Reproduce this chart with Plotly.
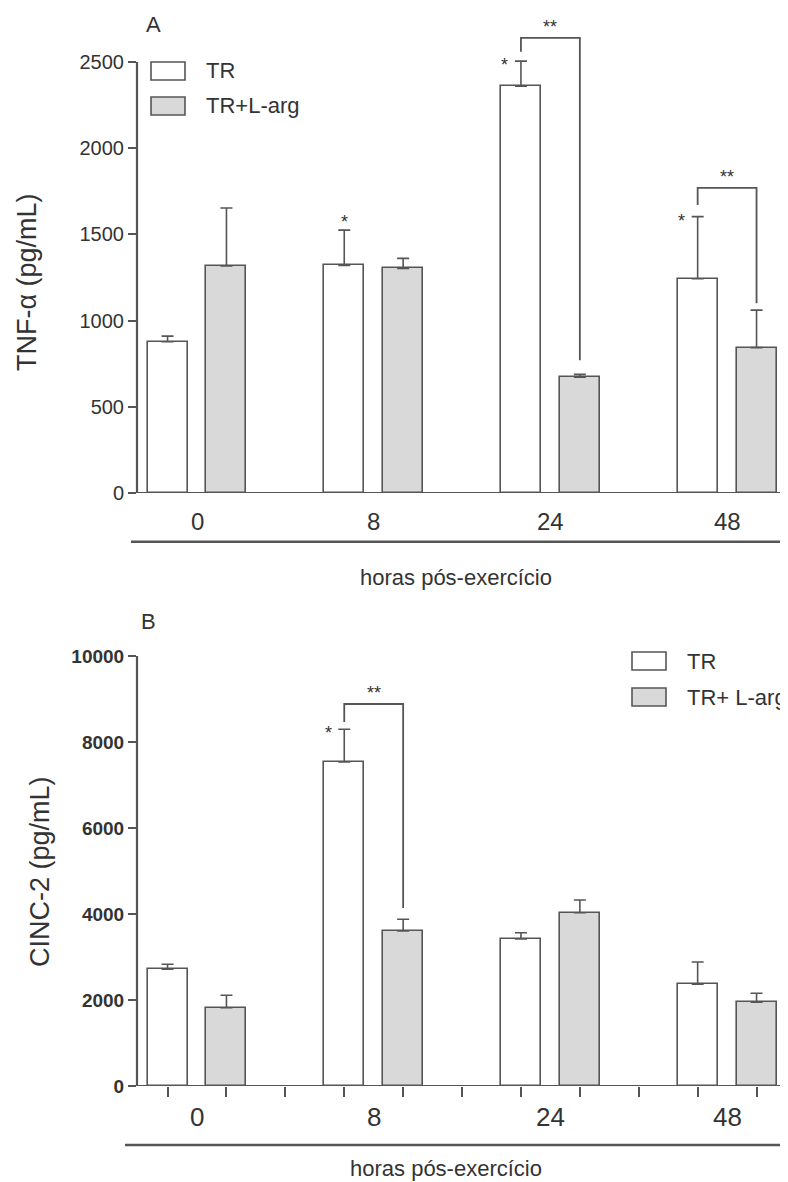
import plotly.graph_objects as go

# ---------------- data ----------------
hours = ["0", "8", "24", "48"]
series_names = ["TR", "TR+L-arg"]

tnf_tr = [877, 1320, 2360, 1243]
tnf_tr_sem = [33, 205, 145, 360]
tnf_larg = [1317, 1303, 671, 843]
tnf_larg_sem = [336, 58, 17, 218]

cinc_tr = [2714, 7535, 3419, 2365]
cinc_tr_sem = [116, 760, 146, 519]
cinc_larg = [1821, 3605, 4030, 1946]
cinc_larg_sem = [288, 272, 296, 210]

tnf_ticks = [0, 500, 1000, 1500, 2000, 2500]
cinc_ticks = [0, 2000, 4000, 6000, 8000, 10000]

# significance: (group index, left start, top, right end) in data units
tnf_brackets = [(2, 2560, 2640, 770), (3, 1670, 1770, 1100)]
tnf_stars = [1, 2, 3]          # groups with "*" on TR
cinc_brackets = [(1, 8465, 8884, 4140)]
cinc_stars = [1]

# ---------------- geometry helpers ----------------
# the page body adds an 8px margin; work in page pixels and convert
OX, OY = 8, 8
W, H = 780, 1174
def px(x):
    return (x - OX) / W
def py(y):
    return 1 - (y - OY) / H

FONT = "Liberation Sans, Arial, sans-serif"
LINE = "#555555"
TXT = "#333333"
GRAY = "#d9d9d9"

GROUP_PX = 176.7
C0 = 197
XMIN = (137 - C0) / GROUP_PX
XMAX = (788 - C0) / GROUP_PX
OFF = 1 / 6
BW = 40 / GROUP_PX

xs = list(range(len(hours)))

fig = go.Figure()

def add_bars(vals, sems, color, xa, ya, off):
    fig.add_trace(go.Bar(
        x=[x + off for x in xs], y=vals, width=BW,
        marker=dict(color=color, line=dict(color=LINE, width=1.6)),
        error_y=dict(type="data", array=sems, arrayminus=[0] * len(sems),
                     symmetric=False, color=LINE, thickness=1.6, width=6),
        xaxis=xa, yaxis=ya, showlegend=False))

add_bars(tnf_tr, tnf_tr_sem, "white", "x", "y", -OFF)
add_bars(tnf_larg, tnf_larg_sem, GRAY, "x", "y", OFF)
add_bars(cinc_tr, cinc_tr_sem, "white", "x2", "y2", -OFF)
add_bars(cinc_larg, cinc_larg_sem, GRAY, "x2", "y2", OFF)

top_zero_px, top_2500_px = 493, 62
top_range_max = 2500 * (top_zero_px - OY) / (top_zero_px - top_2500_px)
bot_zero_px, bot_top_px = 1086, 656

fig.update_layout(
    template="none",
    width=W, height=H, margin=dict(l=0, r=0, t=0, b=0, pad=0, autoexpand=False),
    plot_bgcolor="white", paper_bgcolor="white", bargap=0,
    xaxis=dict(domain=[px(137), 1], range=[XMIN, XMAX], showticklabels=False,
               ticks="", showgrid=False, zeroline=False, showline=False,
               automargin=False),
    yaxis=dict(domain=[py(top_zero_px), 1], range=[0, top_range_max],
               tickvals=tnf_ticks, ticktext=[str(v) for v in tnf_ticks],
               ticks="outside", ticklen=8, tickwidth=2,
               tickcolor=LINE, showgrid=False, zeroline=False, showline=False,
               automargin=False,
               tickfont=dict(family=FONT, size=20, color=TXT)),
    xaxis2=dict(domain=[px(137), 1], range=[XMIN, XMAX], showticklabels=False,
                tickvals=[i / 3 - 1 / 6 for i in range(11)], ticks="outside",
                ticklen=10, tickwidth=2, tickcolor=LINE, anchor="y2",
                showgrid=False, zeroline=False, showline=False, automargin=False),
    yaxis2=dict(domain=[py(bot_zero_px), py(bot_top_px)], range=[0, 10000],
                tickvals=cinc_ticks, ticktext=[str(v) for v in cinc_ticks],
                ticks="outside", ticklen=8, tickwidth=2,
                tickcolor=LINE, anchor="x2", showgrid=False, zeroline=False,
                showline=False, automargin=False,
                tickfont=dict(family=FONT, size=19, color=TXT, weight="bold")),
)

shapes = []
annos = []

def line(x0, y0, x1, y1, xref, yref, w=2.2):
    shapes.append(dict(type="line", x0=x0, y0=y0, x1=x1, y1=y1, xref=xref,
                       yref=yref, line=dict(color=LINE, width=w)))

def text(xp, yp, s, size, **kw):
    d = dict(x=px(xp), y=py(yp), xref="paper", yref="paper", text=s,
             showarrow=False, xanchor="center", yanchor="middle",
             font=dict(family=FONT, size=size, color=TXT))
    d.update(kw)
    annos.append(d)

# axis lines
line(px(137), 0, px(137), 2500, "paper", "y")
line(px(131), 0, 1, 0, "paper", "y")
line(px(137), 0, px(137), 10000, "paper", "y2")
line(px(129), 0, 1, 0, "paper", "y2")
# underlines
line(px(131), py(541.7), 1, py(541.7), "paper", "paper", 2.5)
line(px(125), py(1145), 1, py(1145), "paper", "paper", 2.5)

# category labels
for i, h in enumerate(hours):
    annos.append(dict(x=i, y=py(521), xref="x", yref="paper", text=h,
                      showarrow=False, xanchor="center", yanchor="middle",
                      font=dict(family=FONT, size=24, color=TXT)))
    annos.append(dict(x=i, y=py(1117), xref="x2", yref="paper", text=h,
                      showarrow=False, xanchor="center", yanchor="middle",
                      font=dict(family=FONT, size=26, color=TXT)))

# axis titles
text(27, 282, "TNF-α (pg/mL)", 27, textangle=-90)
text(40, 872, "CINC-2 (pg/mL)", 27, textangle=-90)
text(456, 577, "horas pós-exercício", 22)
text(446, 1168, "horas pós-exercício", 22)
# panel letters
text(153, 25, "A", 22)
text(148, 621, "B", 22)

# legends
def legend(x_box, y1, y2, labels):
    for yc, lab, col in zip((y1, y2), labels, ("white", GRAY)):
        shapes.append(dict(type="rect", xref="paper", yref="paper",
                           x0=px(x_box), x1=px(x_box + 34), y0=py(yc - 9), y1=py(yc + 9),
                           fillcolor=col, line=dict(color=LINE, width=1.6)))
        text(x_box + 53, yc, lab, 22, xanchor="left")

legend(151, 71, 106, series_names)
legend(632, 661, 697, ["TR", "TR+ L-arg"])

# significance brackets
def brackets(br, xr, yr):
    for g, yl, yt, yrr in br:
        xl, xrr = g - OFF, g + OFF
        shapes.append(dict(type="path", xref=xr, yref=yr,
                           path=f"M {xl},{yl} L {xl},{yt} L {xrr},{yt} L {xrr},{yrr}",
                           line=dict(color=LINE, width=1.8)))
        annos.append(dict(x=g, y=yt, xref=xr, yref=yr, text="**", showarrow=False,
                          xanchor="center", yanchor="bottom", yshift=-1,
                          font=dict(family=FONT, size=18, color=TXT)))

brackets(tnf_brackets, "x", "y")
brackets(cinc_brackets, "x2", "y2")

def stars(groups, vals, sems, xr, yr, above_groups=()):
    for g in groups:
        top = vals[g] + sems[g]
        if g in above_groups:
            shift = dict(xshift=0, yshift=8)
        else:
            shift = dict(xshift=-16, yshift=-4)
        annos.append(dict(x=g - OFF, y=top, xref=xr, yref=yr, text="*",
                          showarrow=False, xanchor="center", yanchor="middle",
                          font=dict(family=FONT, size=18, color=TXT), **shift))

stars(tnf_stars, tnf_tr, tnf_tr_sem, "x", "y", above_groups=(1,))
stars(cinc_stars, cinc_tr, cinc_tr_sem, "x2", "y2")

fig.update_layout(shapes=shapes, annotations=annos)
fig.write_html("out.html")
